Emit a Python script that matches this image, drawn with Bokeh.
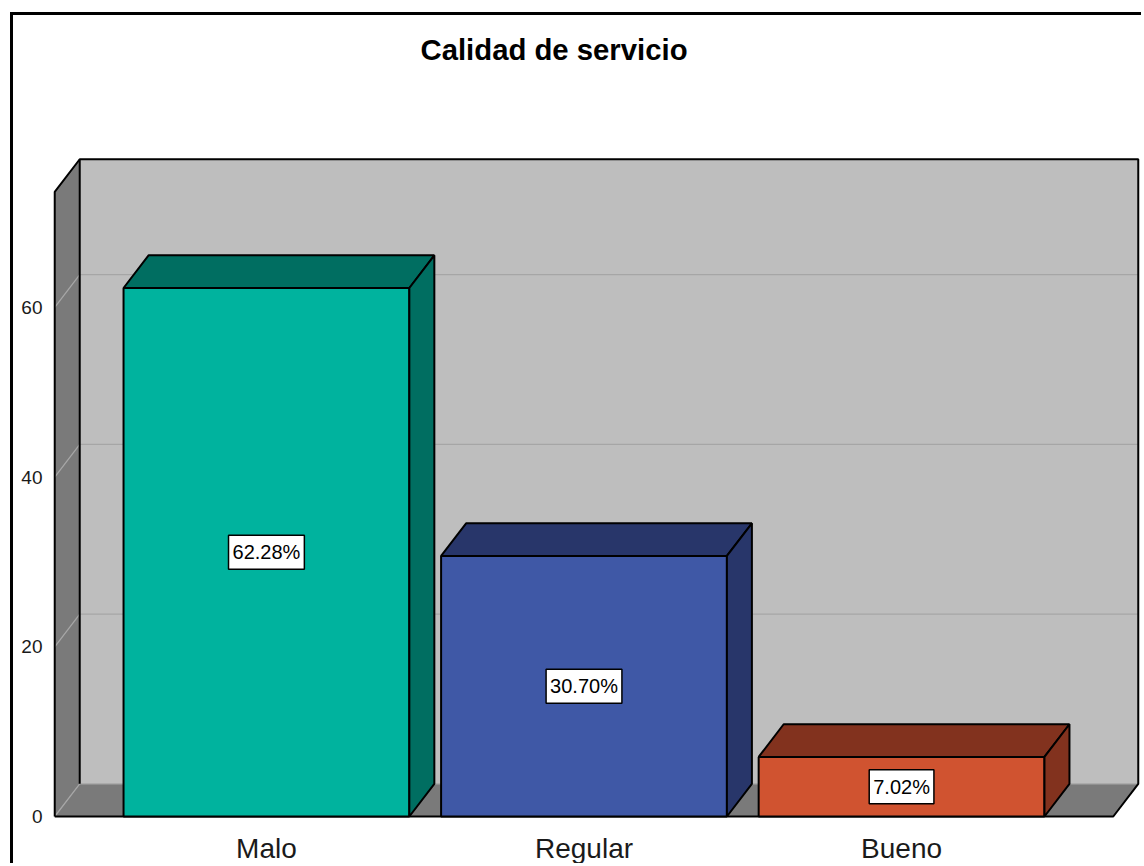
from bokeh.plotting import figure
from bokeh.embed import file_html
from bokeh.resources import INLINE
from bokeh.models import Range1d, FixedTicker, Title, LinearAxis

categories = ["Malo", "Regular", "Bueno"]
percent = [62.28, 30.70, 7.02]
percent_labels = ["62.28%", "30.70%", "7.02%"]
front_colors = ["#00B39E", "#3F58A6", "#D05330"]
dark_colors = ["#006E61", "#28366A", "#82321E"]
y_ticks = [0, 20, 40, 60]
title_text = "Calidad de servicio"

positions = list(range(len(categories)))
half_w = 0.45
dx = 0.0787      # depth of the oblique projection, x units
dy = 3.85        # depth of the oblique projection, y units
x0, x1 = -2 / 3, 2 + 2 / 3
wall_top = 73.6
WALL, SIDE, GRID = "#BEBEBE", "#7A7A7A", "#A6A6A6"

p = figure(width=1131, height=851, output_backend="svg", toolbar_location=None,
           x_range=Range1d(-0.680, 2.765), y_range=Range1d(-1.06, 87.32),
           x_axis_location=None, y_axis_location=None,
           min_border_left=37, min_border_right=0, min_border_top=60, min_border_bottom=41,
           outline_line_color=None, background_fill_color="white", border_fill_color="white",
           margin=(12, 0, 0, 10))
p.styles = {"border-top": "3px solid #000", "border-left": "3px solid #000"}
p.grid.visible = False

p.add_layout(Title(text=title_text, align="left", offset=370, standoff=20,
                   text_font="Liberation Sans", text_font_size="29.3px", text_font_style="bold",
                   text_color="#000000"), "above")

# walls and floor
p.quad(left=x0 + dx, right=x1 + dx, bottom=dy, top=wall_top + dy, fill_color=WALL, line_color=None)
p.patch([x0, x0 + dx, x0 + dx, x0], [0, dy, wall_top + dy, wall_top], fill_color=SIDE, line_color=None)
p.patch([x0, x1, x1 + dx, x0 + dx], [0, 0, dy, dy], fill_color=SIDE, line_color=None)

# gridlines
p.multi_line([[x0, x0 + dx, x1 + dx] for t in y_ticks], [[t, t + dy, t + dy] for t in y_ticks],
             line_color=GRID, line_width=1.3)

# frame of the box
p.multi_line([[x0, x0, x0 + dx, x1 + dx, x1 + dx, x1, x0], [x0 + dx, x0 + dx]],
             [[0, wall_top, wall_top + dy, wall_top + dy, dy, 0, 0], [dy, wall_top + dy]],
             line_color="black", line_width=2)

# bars
for i in positions:
    l, r, v = positions[i] - half_w, positions[i] + half_w, percent[i]
    p.quad(left=l, right=r, bottom=0, top=v, fill_color=front_colors[i], line_color="black", line_width=2)
    p.patch([l, r, r + dx, l + dx], [v, v, v + dy, v + dy], fill_color=dark_colors[i],
            line_color="black", line_width=2)
    p.patch([r, r + dx, r + dx, r], [0, dy, v + dy, v], fill_color=dark_colors[i],
            line_color="black", line_width=2)

# percentage labels
p.text(x=positions, y=[v / 2 for v in percent], text=percent_labels,
       text_align="center", text_baseline="middle", text_color="black", text_font_size="20px",
       text_font={"value": "Liberation Sans"}, background_fill_color="white",
       border_line_color="black", border_line_width=1.5, padding=(4, 6))

# axes
xa = LinearAxis(ticker=FixedTicker(ticks=positions),
                major_label_overrides={i: c for i, c in zip(positions, categories)},
                axis_line_color=None, major_tick_line_color=None, minor_tick_line_color=None,
                major_tick_in=0, major_tick_out=0, minor_tick_in=0, minor_tick_out=0,
                major_label_standoff=7, major_label_text_font="Liberation Sans",
                major_label_text_font_size="28px", major_label_text_color="#1a1a1a")
ya = LinearAxis(ticker=FixedTicker(ticks=y_ticks),
                axis_line_color=None, major_tick_line_color=None, minor_tick_line_color=None,
                major_tick_in=0, major_tick_out=0, minor_tick_in=0, minor_tick_out=0,
                major_label_standoff=8, major_label_text_font="Liberation Sans",
                major_label_text_font_size="19px", major_label_text_color="#1a1a1a")
p.add_layout(xa, "below")
p.add_layout(ya, "left")

open("out.html", "w").write(file_html(p, INLINE))
